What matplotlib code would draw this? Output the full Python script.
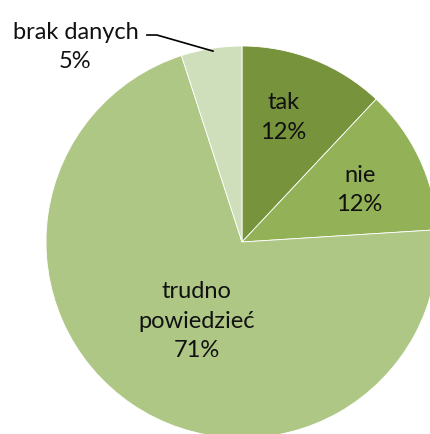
import matplotlib.pyplot as plt

labels = ['tak', 'nie', 'trudno\npowiedzieć', 'brak danych']
values = [12, 12, 71, 5]
colors = ['#77933C', '#93B257', '#AEC785', '#D0DFBB']
# label centres in axes data units (pie radius = 1)
label_pos = [(0.21, 0.64), (0.60, 0.27), (-0.23, -0.40), (-0.85, 1.00)]

plt.rcParams['font.family'] = ['Lato', 'DejaVu Sans']

fig = plt.figure(figsize=(4.30, 4.35), dpi=100)
# pie centre at (242, 243) px, radius 196 px
ax = fig.add_axes([(242 - 196) / 430, (435 - 243 - 196) / 435, 392 / 430, 392 / 435])

wedges, _ = ax.pie(values, colors=colors, startangle=90, counterclock=False,
                   radius=1, wedgeprops=dict(edgecolor='white', linewidth=0.6))
for w in wedges:
    w.set_clip_on(False)
ax.set_aspect('auto')
ax.set_xlim(-1, 1)
ax.set_ylim(-1, 1)
ax.axis('off')

total = sum(values)
for lab, v, (x, y) in zip(labels, values, label_pos):
    txt = '%s\n%d%%' % (lab, round(100 * v / total))
    ax.text(x, y, txt, ha='center', va='center', fontsize=17,
            linespacing=1.5, color='#111111')

# leader line for "brak danych"
ax.plot([-0.485, -0.434, -0.148], [1.056, 1.056, 0.974], color='black',
        lw=1.2, clip_on=False)

fig.savefig('out.png', dpi=100)
